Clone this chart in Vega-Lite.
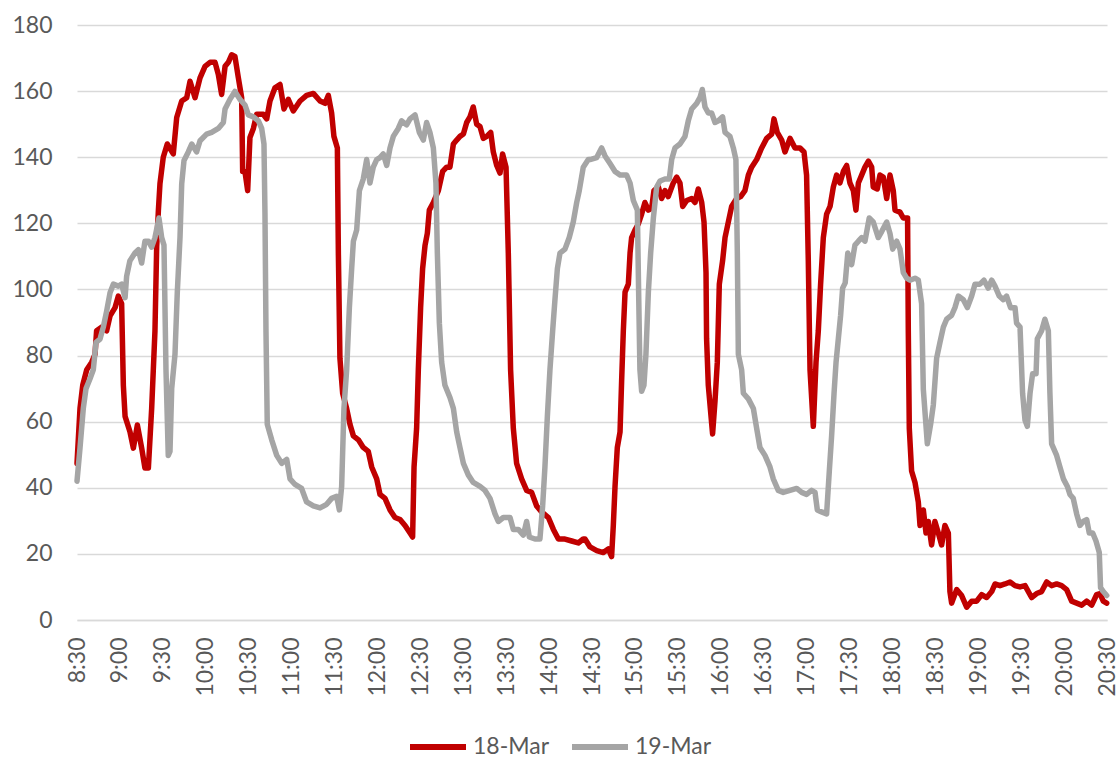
{
"$schema": "https://vega.github.io/schema/vega-lite/v6.json",
"width": 1030,
"height": 595,
"autosize": {"type": "none"},
"padding": {"left": 77, "top": 25, "right": 13, "bottom": 138},
"background": "white",
"config": {"view": {"stroke": null}, "font": "Lato"},
"datasets": {
"red": [[0,47.4],[2.1,64],[4.0,71],[6.8,75.7],[10.3,78],[12.6,80.4],[13.7,87.5],[17.2,88.6],[20.7,87.5],[23.1,92],[26.6,94.5],[28.9,98],[31.2,95.7],[32.4,71],[33.6,61.6],[37,57],[39.4,52],[42.2,59],[45.2,52],[47.5,46],[49.9,46],[52.2,64],[54.5,87.5],[55.7,113],[56.9,124],[58,132],[60.3,140],[63.1,144],[67.3,141],[69.7,152],[73.2,157],[76.7,158],[79,163],[82.5,158],[86,164],[89.5,167.5],[93,168.7],[96.5,168.7],[98.8,165],[101.1,159],[103.5,167.5],[105.8,168.7],[108.1,171],[110.4,170.5],[112.8,164],[115.1,158],[115.8,135.7],[117.4,135.7],[119.3,129.9],[120.9,146],[123.3,148.7],[125.6,153],[130.2,153],[132.6,151.6],[134.9,157],[138.4,161],[141.9,162],[144.7,154.6],[147.7,157.5],[151.2,154],[155.9,157],[160.5,158.7],[165.2,159.3],[169.9,157],[173.4,156.3],[175.7,158.7],[178,153.4],[179.6,146.3],[182,142.8],[182.7,111],[183.8,79.2],[185.7,68.6],[188.5,64],[190.8,59.2],[193.2,55.7],[196.7,54.5],[200.1,52.2],[203.6,51],[206,46.3],[209.5,42.7],[211.8,38],[215.3,36.8],[218.8,33.3],[222.3,31],[225.8,30.4],[229.3,28.6],[232.8,26.3],[234.6,25.1],[235.6,46.3],[237.4,58],[238.6,75.7],[240.2,94.5],[241.6,106.3],[243.3,113.4],[244.9,117],[246.3,124],[249.1,126.3],[252.6,129.9],[255.6,135.7],[258.4,137],[260.7,137],[263.1,144],[265.4,145.2],[267.7,146.3],[270.1,147],[272.4,150.5],[274.7,152.2],[277,155.2],[279.4,150],[281.7,149.3],[284,145.7],[286.4,146.3],[289.2,147.5],[291,141.6],[293.4,137.5],[295.7,135.2],[297.5,141],[299.9,137],[301.5,111],[303.1,75.7],[305,58],[307.3,47.4],[310.8,42.7],[314.3,39.2],[317.8,38.6],[321.3,34.5],[324.8,32.7],[329.5,31],[333,27.4],[336.5,24.5],[341.1,24.5],[345.8,23.9],[350.4,23.3],[353.9,24.5],[355.1,24.5],[358.6,22.1],[363.3,21],[367.9,20.4],[371.4,21.5],[373.7,19.2],[374.9,28.6],[376.1,40.4],[377.7,52.2],[379.6,56.9],[380.7,72.2],[381.9,87.5],[383.1,99.2],[385.4,101.6],[386.6,111],[387.7,115.7],[390.1,118],[392.4,119.8],[394.7,122.8],[397,126.3],[399.4,124],[401.7,124.6],[403.3,129.9],[406.4,131],[408.7,127.5],[411,129.9],[413.3,128.1],[416.8,132.2],[419.2,134],[421.5,132.2],[423.4,125.1],[426.2,126.9],[429.7,127.5],[432,126.3],[434.3,130.4],[436.7,126.3],[438.3,120.4],[439.7,105.1],[440.1,85.1],[441.3,71],[444.3,56.3],[446,66.3],[447.6,78],[449,101.6],[451.3,108.7],[453,115.7],[455.3,120.4],[457.6,125.1],[461.1,127.5],[463.9,128.1],[466.9,129.9],[469.3,134.6],[471.6,137],[475.1,139.3],[478.6,142.8],[482.1,145.7],[485.6,147],[487.2,151.6],[489.5,147.5],[492.6,145.2],[494.9,141.6],[498.4,145.7],[501.9,142.8],[505.4,142.8],[508.2,141.6],[510,134.6],[511.2,108.7],[512.4,75.7],[514.7,58.6],[516.6,78],[518.2,87.5],[519.8,101.6],[521.7,115.7],[524,122.8],[526.4,125.1],[528.7,131],[531,134.6],[533.3,132.2],[535.7,135.7],[538,137.5],[540.3,132.2],[542.7,129.9],[544.5,124],[546.2,132.2],[548.5,134.6],[550.8,137],[553.2,138.8],[555.5,137],[556.6,131],[559.4,130.4],[561.3,134.6],[563.6,134],[566,127.5],[568.3,134.6],[570.6,129.9],[571.8,124],[575.3,123.4],[577.6,121.6],[580.6,121.6],[581.1,87.5],[581.8,58],[583.4,45.1],[585.8,41.6],[588.1,35.7],[589.3,28.6],[591.6,33.3],[593.5,26.3],[595.1,29.8],[597.4,22.7],[599.7,29.8],[602.1,26.3],[604.4,22.7],[606.7,28.6],[609.1,26.3],[610.2,8.6],[611.4,5.1],[614.9,9.2],[618.4,7.4],[621.9,3.9],[625.4,5.7],[628.9,5.7],[632.4,7.7],[635.9,6.8],[639.4,8.6],[641.7,10.9],[645.2,10.4],[648.7,10.9],[652.2,11.5],[655.7,10.4],[659.2,10],[662.7,10.4],[667.3,6.8],[670.8,8],[674.3,8.6],[677.8,11.5],[681.3,10.4],[684.8,10.9],[688.3,10.4],[691.8,9.2],[695.3,5.7],[698.8,5.1],[702.3,4.5],[705.8,5.7],[709.3,4.5],[712.8,7.7],[715.1,8],[717.4,5.7],[719.8,5.1]],
"gray": [[0,42],[2.1,52],[4.4,64],[6.3,70],[9.1,73],[11.4,75.7],[13.3,84],[16.1,85],[18.4,88.6],[20.7,93.4],[23.1,99],[25.4,101.6],[28.9,101],[31.2,101.6],[33.6,97.5],[34.7,104],[37,108.7],[40.5,111],[42.9,112],[45.2,108],[47.5,114.6],[49.9,114.6],[52.2,112.8],[54.5,115.7],[57.3,121.6],[59.2,115.7],[60.8,113.4],[62.2,75.7],[63.8,49.8],[65,51],[66.2,70],[68.5,80.4],[70.1,99],[72,115.7],[73.2,132],[74.8,139],[77.8,141.6],[80.2,144],[83.6,141.6],[86,145],[90.6,147],[94.1,147.5],[98.8,148.7],[102.3,150.5],[103.5,154.6],[106.9,157.5],[110.4,159.9],[113.9,157.5],[117.4,155.8],[119.8,152.8],[123.3,152.2],[126.8,151],[129.1,148.7],[130.7,144],[131.4,122.8],[132.1,87.5],[133,59.2],[136.1,54.5],[139.6,49.8],[143.1,47.4],[146.6,48.6],[148.9,42.7],[152.4,41],[157,39.8],[160.5,35.7],[165.2,34.5],[169.9,33.9],[174.5,35],[178,36.8],[181.5,37.4],[183.4,33.3],[185,40.4],[186.6,64],[188.5,75.7],[190.4,94.5],[192,106.3],[193.2,114.6],[195.5,118],[197.4,129.9],[200.1,133.4],[202.5,139.3],[204.8,132.2],[207.1,137],[209.5,139.3],[211.8,139.9],[214.1,141],[216.5,137.5],[218.8,142.8],[221.1,146.3],[224.6,148.7],[226.9,151],[230.4,149.8],[232.8,151.6],[236.3,152.8],[239.3,147.5],[242.1,145.2],[244.4,150.5],[246.7,147.5],[249.1,142.8],[250.9,132.2],[251.9,111],[253.3,89.8],[254.9,78],[257.2,71],[260.7,67.3],[263.1,64],[265.4,56.9],[267.7,52.2],[270.1,47.4],[273.5,43.9],[277,41.6],[281.7,40.4],[285.2,39.2],[288.7,36.8],[292.2,32.1],[294.5,29.8],[298,31],[302.7,31],[305,27.4],[308.5,27.4],[312,25.7],[314.3,29.8],[316.2,25.1],[320.1,24.5],[323.6,24.5],[325.5,34.5],[327.1,46.3],[328.8,61.6],[330.6,75.7],[332.5,87.5],[334.1,96.9],[335.8,106.3],[337.6,111],[341.1,112.2],[344.1,115.7],[346.9,120.4],[349.3,126.3],[351.1,129.9],[353.9,137],[357.4,139.3],[358.6,139.3],[363.3,139.9],[366.7,142.8],[369.1,140.4],[372.6,138.1],[376.1,135.7],[379.6,134.6],[384.2,134.6],[386.6,132.2],[388.9,126.9],[391.7,124],[392.6,99.2],[393.5,75.7],[394.7,69.2],[396.3,71],[397.7,80.4],[399.4,99.2],[401,111],[402.9,121.6],[405.2,131],[407.5,132.8],[411,133.4],[414,133.4],[415.7,139.3],[418,142.8],[421.5,144],[425,146.3],[427.3,151],[429.7,154.6],[433.2,156.3],[435.5,158.1],[437.1,160.5],[439,155.2],[441.3,153.4],[443.6,153.4],[446,150.5],[448.3,151],[451.3,152.2],[453,147.5],[456.4,146.3],[458.8,142.8],[460.6,139.3],[461.6,111],[462.3,80.4],[464.6,75.7],[465.8,68.6],[469.3,66.9],[472.8,64],[475.1,58],[477.4,52.2],[480.9,49.8],[484.4,46.3],[486.7,42.7],[490.2,39.2],[493.7,38.6],[498.4,39.2],[503.1,39.8],[506.6,38.6],[510,38],[513.5,39.2],[515.9,38.6],[517.5,33.3],[520.5,32.7],[524,32.1],[525.9,45.1],[527.5,55.7],[529.2,68.6],[530.6,78],[532.2,85.1],[533.8,92.2],[535.2,100.4],[537,102],[538.8,111],[541.5,107.5],[543.8,113.4],[546.2,114.6],[548.5,115.7],[550.8,114.6],[553.8,121.6],[556.6,120.4],[560.1,115.7],[562.5,117.5],[566,120.4],[568.3,116.9],[570.2,112.2],[573,114.6],[575.3,112.2],[577.6,105.1],[580,103.4],[582.3,102.8],[585.8,103.4],[588.1,102.8],[590.4,95.7],[591.6,69.8],[594.4,53.3],[596.7,59.2],[598.6,65.1],[600.9,79.2],[603.2,83.9],[605.6,88.6],[607.9,91],[611.4,92.2],[613.7,94.5],[616.1,98],[619.6,96.9],[622.4,94.5],[625.4,98],[627.7,101.6],[631.2,101.6],[634,102.8],[637,100.4],[639.4,102.8],[641.7,101],[644.7,98],[647.5,96.9],[649.8,98],[652.6,94.5],[655.7,94.5],[656.8,89.8],[659.2,88.6],[661,68.6],[662.7,60.4],[664.3,58.6],[666.2,68.6],[668,74.5],[670.4,74.5],[671.3,85.1],[674.3,87.5],[676.6,91],[679,87.5],[680.1,68.6],[681.3,53.3],[684.8,49.8],[687.1,46.3],[689.5,42.7],[692.3,40.4],[694.1,38],[696.4,36.8],[698.8,32.1],[701.1,28.6],[703.4,29.8],[705.8,30.4],[707.6,26.3],[710,26.3],[712.3,23.9],[714.6,20.4],[715.5,9.8],[717.4,8.6],[719.8,7.4]]
},
"layer": [
  {
    "data": {"name": "red"},
    "transform": [
      {"calculate": "'18-Mar'", "as": "series"},
      {"calculate": "datum[0]", "as": "minutes_after_0830"},
      {"calculate": "datum[1]", "as": "value"}
    ],
    "mark": {"type": "line", "strokeWidth": 5.5, "strokeJoin": "round", "strokeCap": "round"},
    "encoding": {
      "x": {"field": "minutes_after_0830", "type": "quantitative"},
      "y": {"field": "value", "type": "quantitative"},
      "color": {"field": "series", "type": "nominal"}
    }
  },
  {
    "data": {"name": "gray"},
    "transform": [
      {"calculate": "'19-Mar'", "as": "series"},
      {"calculate": "datum[0]", "as": "minutes_after_0830"},
      {"calculate": "datum[1]", "as": "value"}
    ],
    "mark": {"type": "line", "strokeWidth": 5.5, "strokeJoin": "round", "strokeCap": "round"},
    "encoding": {
      "x": {"field": "minutes_after_0830", "type": "quantitative"},
      "y": {"field": "value", "type": "quantitative"},
      "color": {"field": "series", "type": "nominal"}
    }
  }
],
"encoding": {
  "x": {"field": "minutes_after_0830", "type": "quantitative",
        "scale": {"domain": [0, 720], "nice": false, "zero": false},
        "axis": {"title": null, "values": [0,30,60,90,120,150,180,210,240,270,300,330,360,390,420,450,480,510,540,570,600,630,660,690,720],
                 "labelExpr": "floor((datum.value+510)/60) + ':' + (((datum.value+510)%60) < 10 ? '0' : '') + ((datum.value+510)%60)",
                 "labelAngle": -90, "labelFont": "Lato", "labelFontSize": 23, "labelColor": "#595959", "labelPadding": 17,
                 "ticks": false, "grid": false, "domain": true, "domainColor": "#D9D9D9", "domainWidth": 1.5, "labelOverlap": false, "labelBound": false, "labelFlush": false}},
  "y": {"field": "value", "type": "quantitative",
        "scale": {"domain": [0, 180], "nice": false},
        "axis": {"title": null, "values": [0,20,40,60,80,100,120,140,160,180], "labelFont": "Lato", "labelFontSize": 23, "labelColor": "#595959",
                 "labelPadding": 25, "ticks": false, "domain": false, "grid": true, "gridColor": "#D9D9D9", "gridWidth": 1.5}},
  "color": {"field": "series", "type": "nominal",
            "scale": {"domain": ["18-Mar", "19-Mar"], "range": ["#C00000", "#A5A5A5"]},
            "legend": {"title": null, "orient": "none", "legendX": 330, "legendY": 691, "direction": "horizontal",
                       "symbolType": "stroke", "symbolSize": 3136, "symbolStrokeWidth": 6, "labelFont": "Lato", "labelFontSize": 23,
                       "labelColor": "#595959", "labelOffset": 4, "columnPadding": 10, "padding": 0}}
}
}
